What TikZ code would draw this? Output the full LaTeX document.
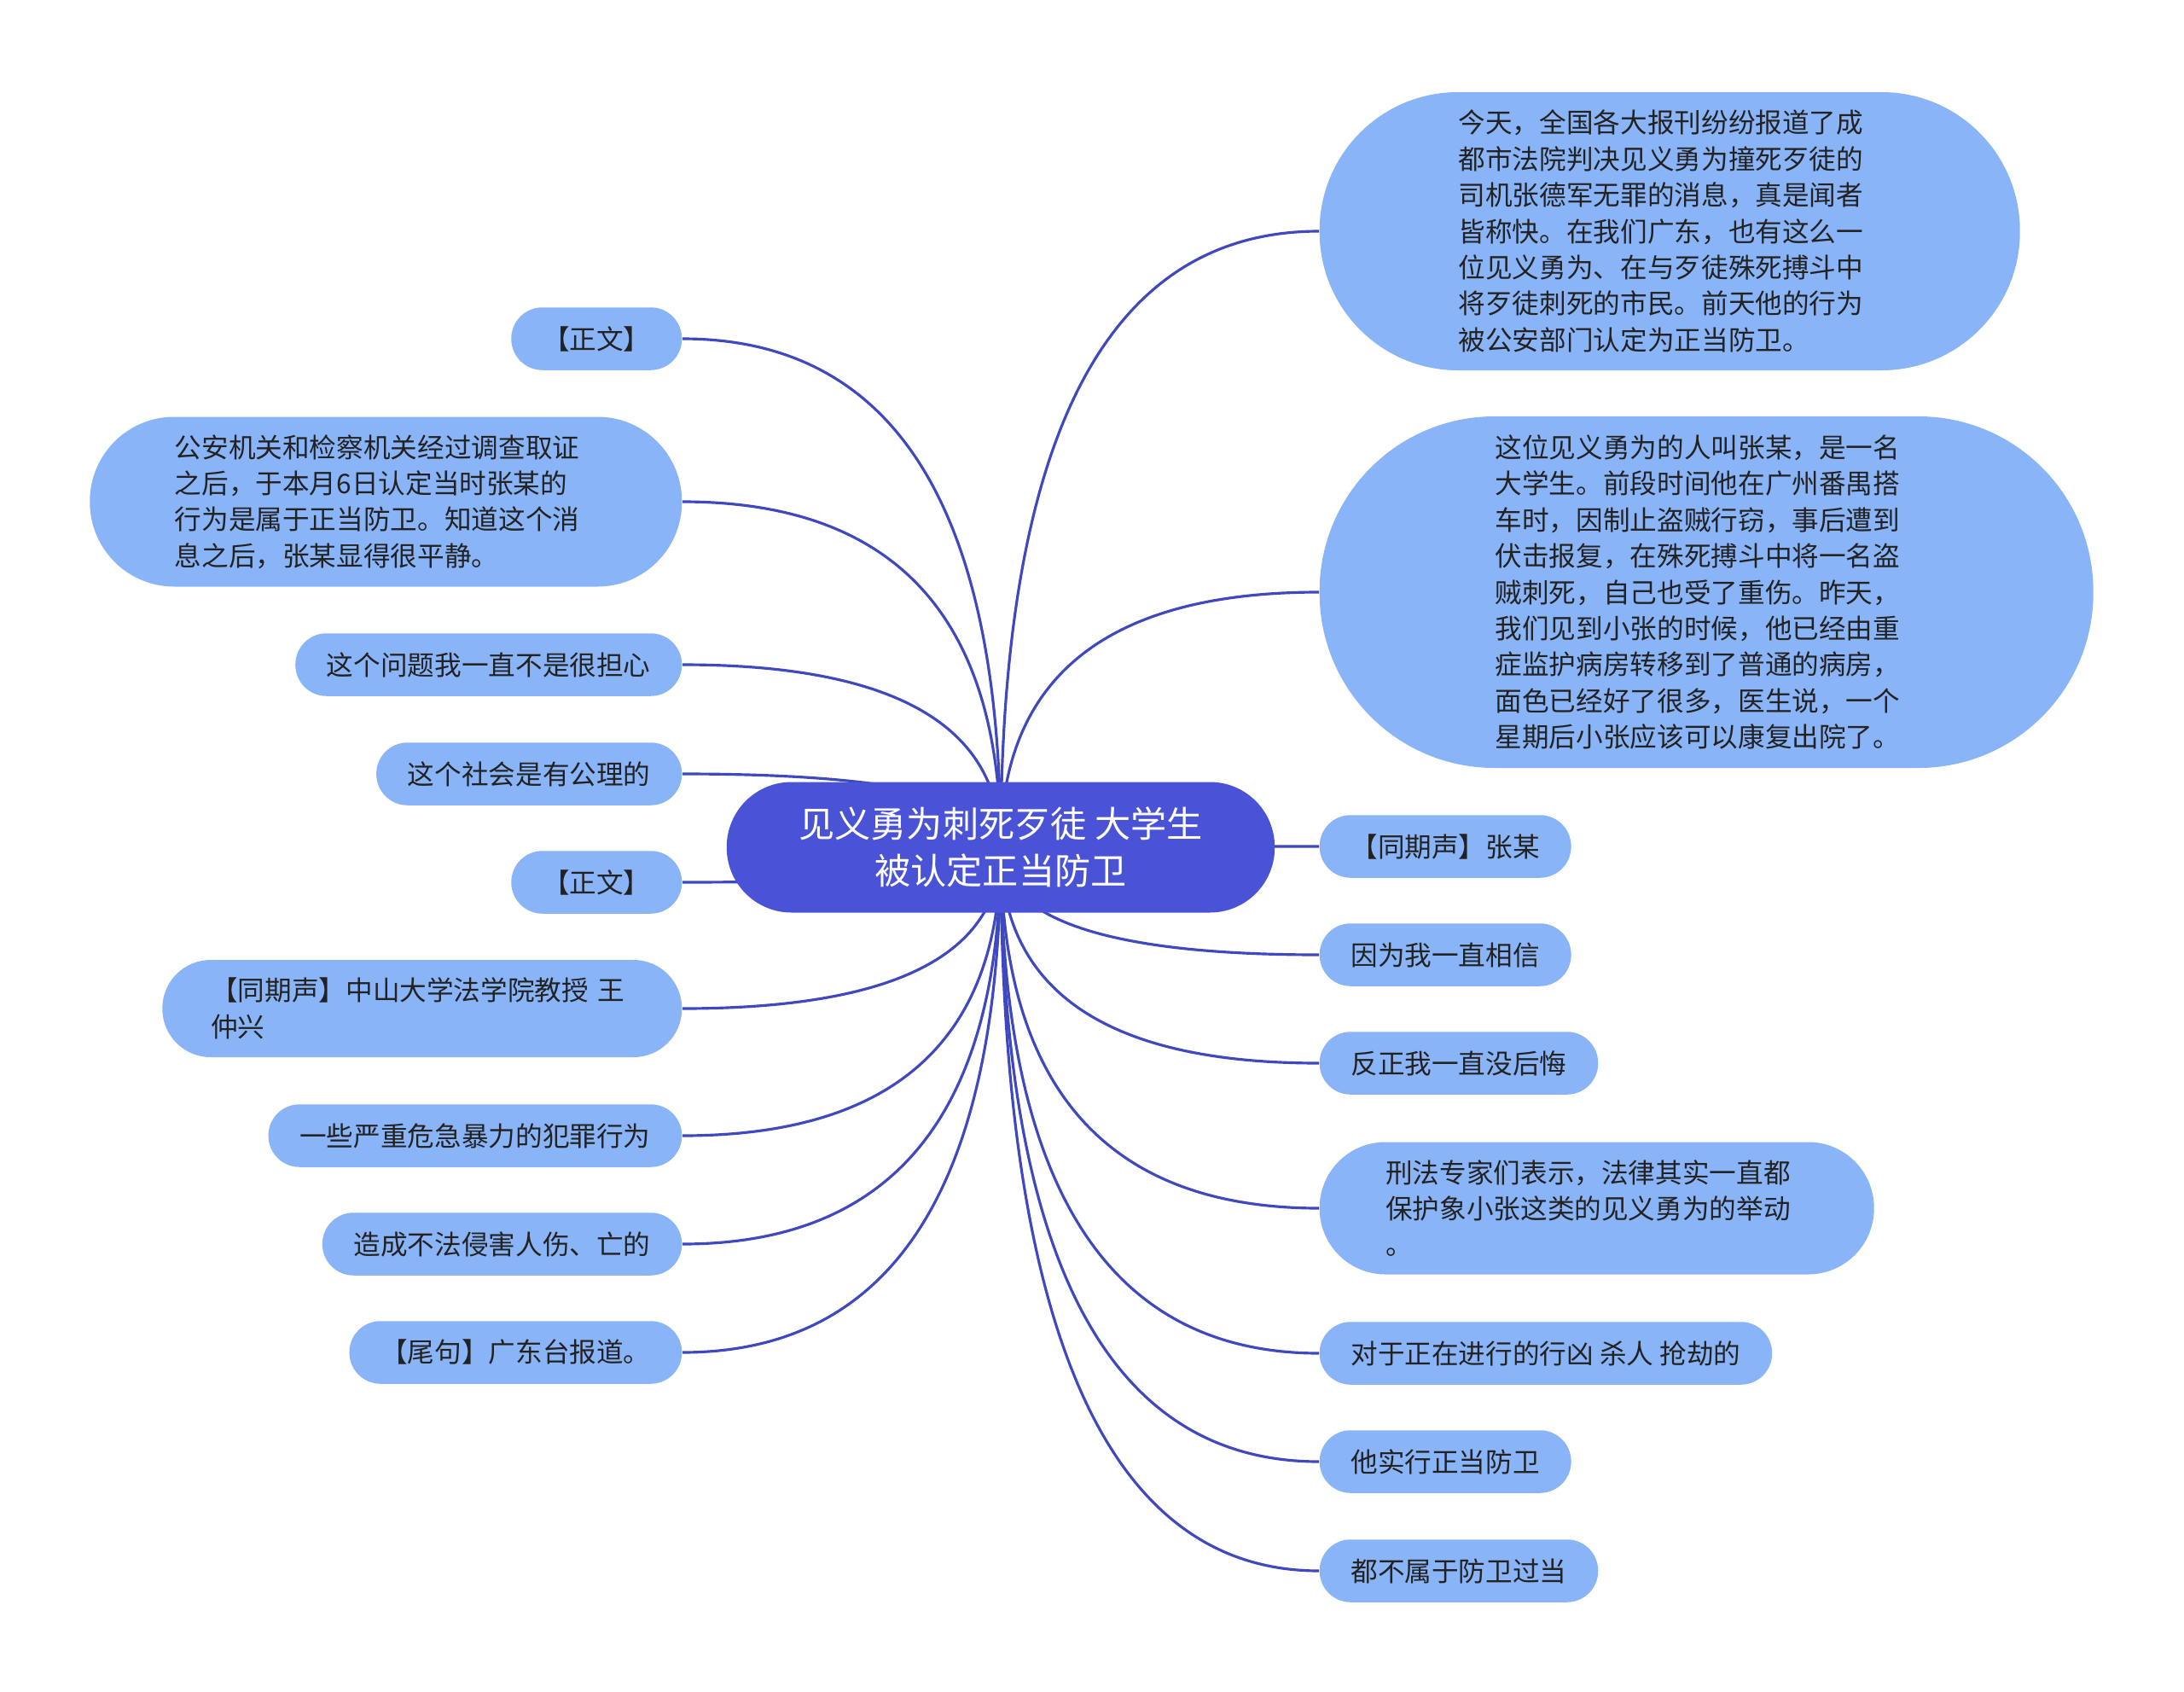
\documentclass[tikz,border=0pt]{standalone}
\usepackage{fontspec}
\newfontfamily\cjk{Noto Sans CJK SC}
\usetikzlibrary{calc, backgrounds}
\definecolor{rootblue}{HTML}{4A53D6}
\definecolor{leafblue}{HTML}{8AB4F8}
\definecolor{linkblue}{HTML}{3F48BE}
\definecolor{inkgray}{HTML}{222222}
\tikzset{
  topic/.style={rectangle, rounded corners=0.76cm, fill=rootblue, text=white, inner xsep=0.845cm,
    inner ysep=0pt, minimum height=1.53cm, align=center, font=\cjk\fontsize{12pt}{15.8pt}\selectfont},
  leaf/.style={rectangle, rounded corners=0.365cm, fill=leafblue, text=inkgray, inner xsep=0.3675cm,
    inner ysep=0pt, minimum height=0.735cm, font=\cjk\fontsize{9pt}{12.07pt}\selectfont},
  para/.style={leaf, text width=4.95cm, align=left, minimum height=2*#1,
    inner xsep=#1, rounded corners=0.995*#1},
  link/.style={draw=linkblue, line width=0.9pt},
}
\newcommand{\branch}[1]{\draw[link] (root.center) .. controls ($(root.center)!2/3!(root.center |- #1)$) and ($(#1)!2/3!(root.center |- #1)$) .. (#1);}

\begin{document}
\begin{tikzpicture}
  \useasboundingbox (0,0) rectangle (25.6,-19.83);
  \node[topic] (root) at (11.73,-9.93) {见义勇为刺死歹徒 大学生\\被认定正当防卫};

  \node[leaf, anchor=east] (l1) at (8.00,-3.97) {【正文】};
  \node[para=0.995cm, anchor=east] (l2) at (8.00,-5.88)
    {公安机关和检察机关经过调查取证\\之后，于本月6日认定当时张某的\\行为是属于正当防卫。知道这个消\\息之后，张某显得很平静。};
  \node[leaf, anchor=east] (l3) at (8.00,-7.79) {这个问题我一直不是很担心};
  \node[leaf, anchor=east] (l4) at (8.00,-9.07) {这个社会是有公理的};
  \node[leaf, anchor=east] (l5) at (8.00,-10.34) {【正文】};
  \node[para=0.57cm, anchor=east] (l6) at (8.00,-11.82)
    {【同期声】中山大学法学院教授 王\\仲兴};
  \node[leaf, anchor=east] (l7) at (8.00,-13.31) {一些严重危急暴力的犯罪行为};
  \node[leaf, anchor=east] (l8) at (8.00,-14.58) {造成不法侵害人伤、亡的};
  \node[leaf, anchor=east] (l9) at (8.00,-15.85) {【尾句】广东台报道。};

  \node[para=1.63cm, anchor=west] (r1) at (15.46,-2.71)
    {今天，全国各大报刊纷纷报道了成\\都市法院判决见义勇为撞死歹徒的\\司机张德军无罪的消息，真是闻者\\皆称快。在我们广东，也有这么一\\位见义勇为、在与歹徒殊死搏斗中\\将歹徒刺死的市民。前天他的行为\\被公安部门认定为正当防卫。};
  \node[para=2.06cm, anchor=west] (r2) at (15.46,-6.94)
    {这位见义勇为的人叫张某，是一名\\大学生。前段时间他在广州番禺搭\\车时，因制止盗贼行窃，事后遭到\\伏击报复，在殊死搏斗中将一名盗\\贼刺死，自己也受了重伤。昨天，\\我们见到小张的时候，他已经由重\\症监护病房转移到了普通的病房，\\面色已经好了很多，医生说，一个\\星期后小张应该可以康复出院了。};
  \node[leaf, anchor=west] (r3) at (15.46,-9.92) {【同期声】张某};
  \node[leaf, anchor=west] (r4) at (15.46,-11.19) {因为我一直相信};
  \node[leaf, anchor=west] (r5) at (15.46,-12.46) {反正我一直没后悔};
  \node[para=0.775cm, anchor=west] (r6) at (15.46,-14.16)
    {刑法专家们表示，法律其实一直都\\保护象小张这类的见义勇为的举动\\。};
  \node[leaf, anchor=west] (r7) at (15.46,-15.86) {对于正在进行的行凶 杀人 抢劫的};
  \node[leaf, anchor=west] (r8) at (15.46,-17.13) {他实行正当防卫};
  \node[leaf, anchor=west] (r9) at (15.46,-18.41) {都不属于防卫过当};

  \begin{scope}[on background layer]
    \foreach \i in {1,...,9} {\branch{l\i.east} \branch{r\i.west}}
  \end{scope}
\end{tikzpicture}
\end{document}
